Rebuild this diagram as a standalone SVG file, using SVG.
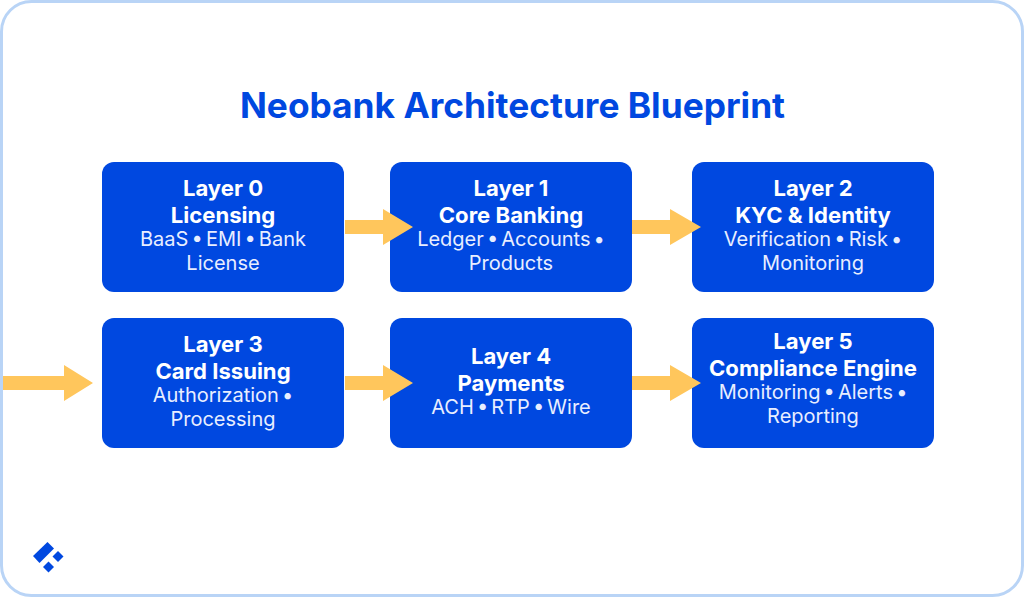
<svg xmlns="http://www.w3.org/2000/svg" width="1024" height="597" viewBox="0 0 1024 597">
<style>
.box{fill:#0048e0}
.t{font-family:"Inter","Liberation Sans",sans-serif;text-anchor:middle;fill:#fff}
.h{font-size:22.1px;font-weight:700}
.s{font-size:20px;font-weight:400;fill:#e8eeff;word-spacing:-2.5px}
.a{fill:#ffc65c}
</style>
<rect x="0" y="0" width="1024" height="597" fill="#fff"/>
<rect x="1.5" y="1.5" width="1021" height="594" rx="30" fill="#fff" stroke="#b9d4f6" stroke-width="3"/>
<text x="512.5" y="118" font-family="Inter,'Liberation Sans',sans-serif" font-size="35.3" font-weight="700" fill="#0048e0" text-anchor="middle">Neobank Architecture Blueprint</text>
<g id="n0"><rect class="box" x="102" y="162" width="242" height="130" rx="12"/><text class="t h" x="223" y="196">Layer 0</text><text class="t h" x="223" y="223">Licensing</text><text class="t s" x="223" y="246">BaaS • EMI • Bank</text><text class="t s" x="223" y="270">License</text></g>
<g id="n1"><rect class="box" x="390" y="162" width="242" height="130" rx="12"/><text class="t h" x="511" y="196">Layer 1</text><text class="t h" x="511" y="223">Core Banking</text><text class="t s" x="511" y="246">Ledger • Accounts •</text><text class="t s" x="511" y="270">Products</text></g>
<g id="n2"><rect class="box" x="692" y="162" width="242" height="130" rx="12"/><text class="t h" x="813" y="196">Layer 2</text><text class="t h" x="813" y="223">KYC &amp; Identity</text><text class="t s" x="813" y="246">Verification • Risk •</text><text class="t s" x="813" y="270">Monitoring</text></g>
<g id="n3"><rect class="box" x="102" y="318" width="242" height="130" rx="12"/><text class="t h" x="223" y="352">Layer 3</text><text class="t h" x="223" y="379">Card Issuing</text><text class="t s" x="223" y="402">Authorization •</text><text class="t s" x="223" y="426">Processing</text></g>
<g id="n4"><rect class="box" x="390" y="318" width="242" height="130" rx="12"/><text class="t h" x="511" y="364">Layer 4</text><text class="t h" x="511" y="391">Payments</text><text class="t s" x="511" y="414">ACH • RTP • Wire</text></g>
<g id="n5"><rect class="box" x="692" y="318" width="242" height="130" rx="12"/><text class="t h" x="813" y="349">Layer 5</text><text class="t h" x="813" y="376">Compliance Engine</text><text class="t s" x="813" y="399">Monitoring • Alerts •</text><text class="t s" x="813" y="423">Reporting</text></g>
<g id="connectors" class="a">
<polygon points="345,220 383,220 383,209 413,227 383,245 383,234 345,234"/>
<polygon points="632,220 670,220 670,209 701,227 670,245 670,234 632,234"/>
<polygon points="3,376 64,376 64,365 93,383 64,401 64,390 3,390"/>
<polygon points="345,376 383,376 383,365 413,383 383,401 383,390 345,390"/>
<polygon points="632,376 670,376 670,365 701,383 670,401 670,390 632,390"/>
</g>
<g id="logo" fill="#0048e0">
<polygon points="33,556 47.5,542 54,548.500 39.500,563"/>
<polygon points="52.500,556.500 58,551 63.500,556.500 58,562"/>
<polygon points="43,567 48.500,561.500 54,567 48.500,572.500"/>
</g>
</svg>
